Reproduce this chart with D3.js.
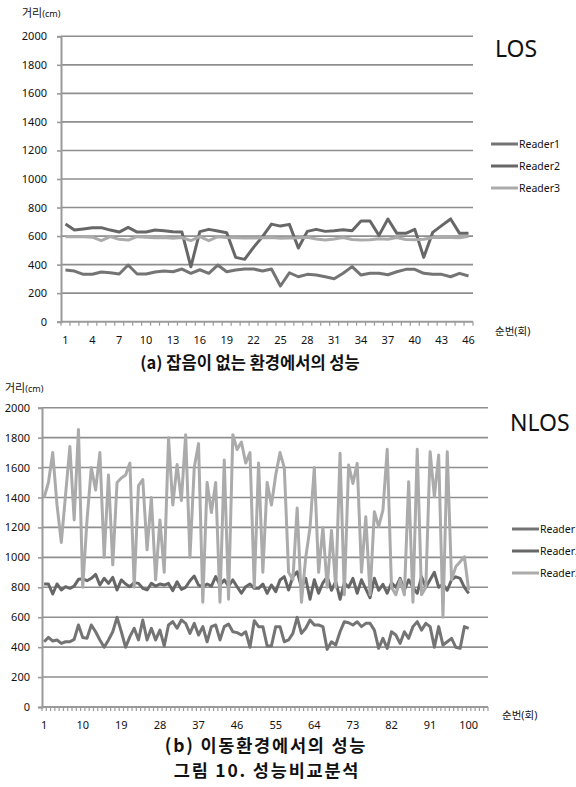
<!DOCTYPE html>
<html>
<head>
<meta charset="utf-8">
<script src="https://cdn.jsdelivr.net/npm/d3@7"></script>
<style>
  html, body { margin: 0; padding: 0; background: #fff; }
  svg { display: block; }
  text { font-family: "Noto Sans", "Noto Sans CJK KR", sans-serif; fill: #111; }
  .cap { font-family: "Noto Sans CJK KR", sans-serif; font-weight: bold; }
</style>
</head>
<body>
<svg id="chart" width="576" height="787"></svg>
<script>
// ---- (a) LOS: 46 measurements per reader ----
const losRounds = d3.range(1, 47);
const losTickLabels = ["1","4","7","10","13","16","19","22","25","28","31","34","37","40","43","46"];
const losReader1 = [362,355,332,332,348,343,334,397,334,334,348,355,350,369,339,364,339,397,350,362,369,369,355,369,250,343,315,332,327,315,301,339,386,327,339,339,329,350,367,367,339,332,332,315,339,320];
const losReader2 = [684,642,650,659,659,642,628,661,628,628,642,638,631,628,385,631,647,635,624,451,437,521,596,684,670,682,516,633,647,633,638,645,638,706,706,605,720,619,619,647,451,626,673,720,619,619];
const losReader3 = [596,596,596,592,568,596,577,572,596,592,588,590,585,590,568,596,568,596,590,588,586,586,588,590,585,586,588,592,580,572,580,590,576,572,574,582,578,590,576,574,578,590,592,590,588,598];

// ---- (b) NLOS: 100 measurements per reader, axis laid out for 104 slots ----
const nlosRounds = d3.range(1, 105);
const nlosTickLabels = ["1","10","19","28","37","46","55","64","73","82","91","100"];
const nlosReader1 = [436,465,441,448,425,436,436,452,548,465,459,548,503,448,399,448,503,599,503,399,
                     470,526,448,581,448,526,448,514,408,548,570,526,581,559,492,559,481,537,436,537,
                     548,448,537,554,503,497,481,503,399,577,537,537,408,408,537,537,436,448,492,599,
                     492,526,581,548,548,537,385,436,414,503,570,563,548,570,537,559,559,514,392,459,
                     392,503,481,425,503,459,537,570,514,559,537,399,537,414,436,459,399,392,537,526];
const nlosReader2 = [822,822,755,822,782,804,793,808,853,857,844,860,886,815,860,826,866,782,849,822,
                     804,831,826,793,782,826,808,822,815,826,777,837,786,800,844,875,815,804,822,808,
                     871,815,849,808,849,804,760,804,822,793,793,822,760,815,771,849,871,782,871,904,
                     800,860,720,850,760,830,870,780,840,720,830,800,860,760,850,790,730,860,780,820,
                     760,830,800,860,780,850,800,760,870,800,850,900,800,820,780,850,870,860,800,760];
const nlosReader3 = [1400,1500,1700,1350,1100,1420,1740,1250,1855,800,1250,1600,1450,1700,1000,1550,950,1500,1530,1550,
                     1630,800,1480,1520,1050,1400,850,1250,900,1800,1350,1620,1380,1820,1000,1600,1760,700,1500,1300,
                     1500,700,1650,720,1820,1720,1770,1630,1700,800,1630,900,1500,1350,1550,1700,1600,900,850,1330,
                     700,1000,1200,1600,900,1200,800,1180,800,1695,750,1617,1494,1628,900,1272,750,1305,1205,1316,
                     1722,800,750,850,750,1505,700,1722,750,800,1706,1405,1684,600,1706,850,938,971,1004,780];

const yTicks = [0,200,400,600,800,1000,1200,1400,1600,1800,2000];
const readerNames = ["Reader1","Reader2","Reader3"];
const readerColors = ["#747474","#676767","#ababab"];

const svg = d3.select("#chart");

function drawPanel(opt) {
  const g = svg.append("g");
  const x = d3.scaleBand().domain(opt.rounds).range([opt.left, opt.right]);
  const y = d3.scaleLinear().domain([0, 2000]).range([opt.bottom, opt.top]);

  // horizontal gridlines
  g.selectAll("line.grid").data(yTicks.slice(1)).join("line")
    .attr("x1", opt.left).attr("x2", opt.right)
    .attr("y1", d => y(d)).attr("y2", d => y(d))
    .attr("stroke", "#8e8e8e").attr("stroke-width", 1.6);

  // y axis with plain integer labels
  const yAxis = d3.axisLeft(y).tickValues(yTicks).tickFormat(d3.format("d"))
    .tickSize(4).tickPadding(opt.yPad);
  const ya = g.append("g").attr("transform", `translate(${opt.left},0)`).call(yAxis);
  ya.select(".domain").attr("stroke", "#9a9a9a").attr("stroke-width", 2);
  ya.selectAll(".tick line").attr("stroke", "#9a9a9a").attr("stroke-width", 1.6);
  ya.selectAll(".tick text").attr("font-size", 11).attr("fill", "#111")
    .attr("font-family", "'Noto Sans', sans-serif");

  // x axis: ticks on slot boundaries, labels at slot centres
  const xa = g.append("g");
  xa.append("line").attr("x1", opt.left).attr("x2", opt.right)
    .attr("y1", opt.bottom).attr("y2", opt.bottom)
    .attr("stroke", "#9a9a9a").attr("stroke-width", 2);
  const bounds = opt.rounds.map(r => x(r)).concat([opt.right]);
  xa.selectAll("line.tk").data(bounds).join("line")
    .attr("x1", d => d).attr("x2", d => d)
    .attr("y1", opt.bottom).attr("y2", opt.bottom + 4)
    .attr("stroke", "#9a9a9a").attr("stroke-width", 1.2);
  xa.selectAll("text").data(opt.tickLabels).join("text")
    .attr("x", d => x(+d) + x.bandwidth() / 2)
    .attr("y", opt.bottom + 22)
    .attr("text-anchor", "middle").attr("font-size", 11)
    .text(d => d);

  // series, later readers drawn on top
  const line = d3.line()
    .x((d, i) => x(opt.rounds[i]) + x.bandwidth() / 2)
    .y(d => y(d));
  opt.series.forEach((s, k) => {
    g.append("path").datum(s).attr("d", line)
      .attr("fill", "none").attr("stroke", readerColors[k])
      .attr("stroke-width", 3).attr("stroke-linejoin", "round");
  });

  // axis titles
  const yt = g.append("text").attr("x", opt.yTitleX).attr("y", opt.yTitleY).attr("font-size", 11);
  yt.append("tspan").attr("font-family", "'Noto Sans CJK KR', sans-serif").text("거리");
  yt.append("tspan").attr("font-size", 9).text("(cm)");
  g.append("text").attr("x", opt.xTitleX).attr("y", opt.xTitleY)
    .attr("font-size", 10.5).attr("font-family", "'Noto Sans CJK KR', sans-serif")
    .text("순번(회)");

  // panel label
  g.append("text").attr("x", opt.tagX).attr("y", opt.tagY)
    .attr("font-size", 23).attr("font-family", "Lato, 'Open Sans', sans-serif")
    .text(opt.tag);

  // legend
  const lg = g.append("g");
  readerNames.forEach((n, k) => {
    const ly = opt.legendY + k * 22;
    lg.append("line").attr("x1", opt.legendX).attr("x2", opt.legendX + 27)
      .attr("y1", ly).attr("y2", ly)
      .attr("stroke", readerColors[k]).attr("stroke-width", 3);
    lg.append("text").attr("x", opt.legendX + 28).attr("y", ly + 4)
      .attr("font-size", 10.5).text(n);
  });
}

drawPanel({
  rounds: losRounds, tickLabels: losTickLabels,
  series: [losReader1, losReader2, losReader3],
  left: 61, right: 473, top: 36.3, bottom: 321.7, yPad: 10,
  yTitleX: 22, yTitleY: 17, xTitleX: 495, xTitleY: 335,
  tag: "LOS", tagX: 495, tagY: 57,
  legendX: 491, legendY: 144
});

drawPanel({
  rounds: nlosRounds, tickLabels: nlosTickLabels,
  series: [nlosReader1, nlosReader2, nlosReader3],
  left: 42, right: 488, top: 407.7, bottom: 707, yPad: 8,
  yTitleX: 5, yTitleY: 392, xTitleX: 502, xTitleY: 719,
  tag: "NLOS", tagX: 510, tagY: 431,
  legendX: 512, legendY: 529
});

// figure captions
svg.append("text").attr("class", "cap").attr("x", 250).attr("y", 369)
  .attr("text-anchor", "middle").attr("font-size", 16.5)
  .text("(a) 잡음이 없는 환경에서의 성능");
svg.append("text").attr("class", "cap").attr("x", 266).attr("y", 752)
  .attr("text-anchor", "middle").attr("font-size", 17.5)
  .attr("letter-spacing", 1.8)
  .text("(b) 이동환경에서의 성능");
svg.append("text").attr("class", "cap").attr("x", 267).attr("y", 777)
  .attr("text-anchor", "middle").attr("font-size", 17.5)
  .attr("letter-spacing", 1.8)
  .text("그림 10. 성능비교분석");
</script>
</body>
</html>
